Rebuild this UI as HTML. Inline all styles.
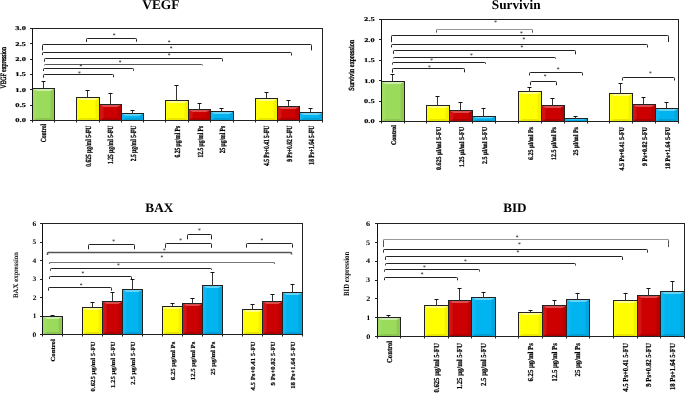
<!DOCTYPE html>
<html><head><meta charset="utf-8"><style>
html,body{margin:0;padding:0;background:#fff;overflow:hidden;}
svg{display:block;}
svg text{font-family:"Liberation Serif", serif;text-rendering:geometricPrecision;}
.tx{filter:grayscale(1) blur(0.2px);}
</style></head><body>
<svg width="685" height="393" viewBox="0 0 685 393">
<rect width="685" height="393" fill="#fff"/>
<g class="sh">
<rect x="32.5" y="88.5" width="22.0" height="32.0" fill="#9bdb5b"/>
<polygon points="32.5,88.5 36.5,91.1 36.5,118.1 32.5,120.5" fill="#a1dd65"/>
<polygon points="54.5,88.5 50.5,91.1 50.5,118.1 54.5,120.5" fill="#8fc954"/>
<polygon points="32.5,88.5 54.5,88.5 50.5,91.1 36.5,91.1" fill="#cdedad"/>
<polygon points="32.5,120.5 54.5,120.5 50.5,118.1 36.5,118.1" fill="#8cc552"/>
<rect x="32.5" y="88.5" width="22.0" height="32.0" fill="none" stroke="#222" stroke-width="1"/>
<line x1="43.5" y1="88.5" x2="43.5" y2="81.5" stroke="#333" stroke-width="1"/>
<line x1="41.5" y1="81.5" x2="45.5" y2="81.5" stroke="#111" stroke-width="1"/>
<rect x="76.5" y="97.5" width="23.0" height="23.0" fill="#ffff00"/>
<polygon points="76.5,97.5 80.5,100.1 80.5,118.1 76.5,120.5" fill="#ffff0d"/>
<polygon points="99.5,97.5 95.5,100.1 95.5,118.1 99.5,120.5" fill="#f2f200"/>
<polygon points="76.5,97.5 99.5,97.5 95.5,100.1 80.5,100.1" fill="#ffff8c"/>
<polygon points="76.5,120.5 99.5,120.5 95.5,118.1 80.5,118.1" fill="#e6e600"/>
<rect x="76.5" y="97.5" width="23.0" height="23.0" fill="none" stroke="#222" stroke-width="1"/>
<line x1="87.5" y1="97.5" x2="87.5" y2="90.5" stroke="#333" stroke-width="1"/>
<line x1="85.5" y1="90.5" x2="89.5" y2="90.5" stroke="#111" stroke-width="1"/>
<rect x="99.5" y="104.5" width="22.0" height="16.0" fill="#cc0000"/>
<polygon points="99.5,104.5 103.5,107.1 103.5,118.1 99.5,120.5" fill="#d01414"/>
<polygon points="121.5,104.5 117.5,107.1 117.5,118.1 121.5,120.5" fill="#b80000"/>
<polygon points="99.5,104.5 121.5,104.5 117.5,107.1 103.5,107.1" fill="#db4c4c"/>
<polygon points="99.5,120.5 121.5,120.5 117.5,118.1 103.5,118.1" fill="#ad0000"/>
<rect x="99.5" y="104.5" width="22.0" height="16.0" fill="none" stroke="#222" stroke-width="1"/>
<line x1="110.5" y1="104.5" x2="110.5" y2="93.5" stroke="#333" stroke-width="1"/>
<line x1="108.5" y1="93.5" x2="112.5" y2="93.5" stroke="#111" stroke-width="1"/>
<rect x="121.5" y="113.5" width="22.0" height="7.0" fill="#00b4f0"/>
<polygon points="121.5,113.5 125.5,115.83333333333333 125.5,118.16666666666667 121.5,120.5" fill="#0fb8f1"/>
<polygon points="143.5,113.5 139.5,115.83333333333333 139.5,118.16666666666667 143.5,120.5" fill="#00a6dd"/>
<polygon points="121.5,113.5 143.5,113.5 139.5,115.83333333333333 125.5,115.83333333333333" fill="#66d2f6"/>
<polygon points="121.5,120.5 143.5,120.5 139.5,118.16666666666667 125.5,118.16666666666667" fill="#009ed3"/>
<rect x="121.5" y="113.5" width="22.0" height="7.0" fill="none" stroke="#222" stroke-width="1"/>
<line x1="132.5" y1="113.5" x2="132.5" y2="110.5" stroke="#333" stroke-width="1"/>
<line x1="130.5" y1="110.5" x2="134.5" y2="110.5" stroke="#111" stroke-width="1"/>
<rect x="165.5" y="100.5" width="23.0" height="20.0" fill="#ffff00"/>
<polygon points="165.5,100.5 169.5,103.1 169.5,118.1 165.5,120.5" fill="#ffff0d"/>
<polygon points="188.5,100.5 184.5,103.1 184.5,118.1 188.5,120.5" fill="#f2f200"/>
<polygon points="165.5,100.5 188.5,100.5 184.5,103.1 169.5,103.1" fill="#ffff8c"/>
<polygon points="165.5,120.5 188.5,120.5 184.5,118.1 169.5,118.1" fill="#e6e600"/>
<rect x="165.5" y="100.5" width="23.0" height="20.0" fill="none" stroke="#222" stroke-width="1"/>
<line x1="176.5" y1="100.5" x2="176.5" y2="85.5" stroke="#333" stroke-width="1"/>
<line x1="174.5" y1="85.5" x2="178.5" y2="85.5" stroke="#111" stroke-width="1"/>
<rect x="188.5" y="109.5" width="22.0" height="11.0" fill="#cc0000"/>
<polygon points="188.5,109.5 192.5,112.1 192.5,118.1 188.5,120.5" fill="#d01414"/>
<polygon points="210.5,109.5 206.5,112.1 206.5,118.1 210.5,120.5" fill="#b80000"/>
<polygon points="188.5,109.5 210.5,109.5 206.5,112.1 192.5,112.1" fill="#db4c4c"/>
<polygon points="188.5,120.5 210.5,120.5 206.5,118.1 192.5,118.1" fill="#ad0000"/>
<rect x="188.5" y="109.5" width="22.0" height="11.0" fill="none" stroke="#222" stroke-width="1"/>
<line x1="199.5" y1="109.5" x2="199.5" y2="103.5" stroke="#333" stroke-width="1"/>
<line x1="197.5" y1="103.5" x2="201.5" y2="103.5" stroke="#111" stroke-width="1"/>
<rect x="210.5" y="111.5" width="23.0" height="9.0" fill="#00b4f0"/>
<polygon points="210.5,111.5 214.5,114.1 214.5,118.1 210.5,120.5" fill="#0fb8f1"/>
<polygon points="233.5,111.5 229.5,114.1 229.5,118.1 233.5,120.5" fill="#00a6dd"/>
<polygon points="210.5,111.5 233.5,111.5 229.5,114.1 214.5,114.1" fill="#66d2f6"/>
<polygon points="210.5,120.5 233.5,120.5 229.5,118.1 214.5,118.1" fill="#009ed3"/>
<rect x="210.5" y="111.5" width="23.0" height="9.0" fill="none" stroke="#222" stroke-width="1"/>
<line x1="221.5" y1="111.5" x2="221.5" y2="108.5" stroke="#333" stroke-width="1"/>
<line x1="219.5" y1="108.5" x2="223.5" y2="108.5" stroke="#111" stroke-width="1"/>
<rect x="255.5" y="98.5" width="22.0" height="22.0" fill="#ffff00"/>
<polygon points="255.5,98.5 259.5,101.1 259.5,118.1 255.5,120.5" fill="#ffff0d"/>
<polygon points="277.5,98.5 273.5,101.1 273.5,118.1 277.5,120.5" fill="#f2f200"/>
<polygon points="255.5,98.5 277.5,98.5 273.5,101.1 259.5,101.1" fill="#ffff8c"/>
<polygon points="255.5,120.5 277.5,120.5 273.5,118.1 259.5,118.1" fill="#e6e600"/>
<rect x="255.5" y="98.5" width="22.0" height="22.0" fill="none" stroke="#222" stroke-width="1"/>
<line x1="266.5" y1="98.5" x2="266.5" y2="92.5" stroke="#333" stroke-width="1"/>
<line x1="264.5" y1="92.5" x2="268.5" y2="92.5" stroke="#111" stroke-width="1"/>
<rect x="277.5" y="106.5" width="22.0" height="14.0" fill="#cc0000"/>
<polygon points="277.5,106.5 281.5,109.1 281.5,118.1 277.5,120.5" fill="#d01414"/>
<polygon points="299.5,106.5 295.5,109.1 295.5,118.1 299.5,120.5" fill="#b80000"/>
<polygon points="277.5,106.5 299.5,106.5 295.5,109.1 281.5,109.1" fill="#db4c4c"/>
<polygon points="277.5,120.5 299.5,120.5 295.5,118.1 281.5,118.1" fill="#ad0000"/>
<rect x="277.5" y="106.5" width="22.0" height="14.0" fill="none" stroke="#222" stroke-width="1"/>
<line x1="288.5" y1="106.5" x2="288.5" y2="100.5" stroke="#333" stroke-width="1"/>
<line x1="286.5" y1="100.5" x2="290.5" y2="100.5" stroke="#111" stroke-width="1"/>
<rect x="299.5" y="112.5" width="23.0" height="8.0" fill="#00b4f0"/>
<polygon points="299.5,112.5 303.5,115.1 303.5,118.1 299.5,120.5" fill="#0fb8f1"/>
<polygon points="322.5,112.5 318.5,115.1 318.5,118.1 322.5,120.5" fill="#00a6dd"/>
<polygon points="299.5,112.5 322.5,112.5 318.5,115.1 303.5,115.1" fill="#66d2f6"/>
<polygon points="299.5,120.5 322.5,120.5 318.5,118.1 303.5,118.1" fill="#009ed3"/>
<rect x="299.5" y="112.5" width="23.0" height="8.0" fill="none" stroke="#222" stroke-width="1"/>
<line x1="310.5" y1="112.5" x2="310.5" y2="108.5" stroke="#333" stroke-width="1"/>
<line x1="308.5" y1="108.5" x2="312.5" y2="108.5" stroke="#111" stroke-width="1"/>
<rect x="32.5" y="28.5" width="290.0" height="92.0" fill="none" stroke="#222" stroke-width="1"/>
<line x1="32.5" y1="28.5" x2="32.5" y2="120.5" stroke="#111" stroke-width="1"/>
<line x1="32.5" y1="120.5" x2="322.5" y2="120.5" stroke="#222" stroke-width="1"/>
<line x1="30.0" y1="120.5" x2="32.5" y2="120.5" stroke="#222" stroke-width="1"/>
<line x1="30.0" y1="105.5" x2="32.5" y2="105.5" stroke="#222" stroke-width="1"/>
<line x1="30.0" y1="89.5" x2="32.5" y2="89.5" stroke="#222" stroke-width="1"/>
<line x1="30.0" y1="74.5" x2="32.5" y2="74.5" stroke="#222" stroke-width="1"/>
<line x1="30.0" y1="59.5" x2="32.5" y2="59.5" stroke="#222" stroke-width="1"/>
<line x1="30.0" y1="43.5" x2="32.5" y2="43.5" stroke="#222" stroke-width="1"/>
<line x1="30.0" y1="28.5" x2="32.5" y2="28.5" stroke="#222" stroke-width="1"/>
<line x1="32.5" y1="120.5" x2="32.5" y2="122.5" stroke="#222" stroke-width="1"/>
<line x1="54.5" y1="120.5" x2="54.5" y2="122.5" stroke="#222" stroke-width="1"/>
<line x1="76.5" y1="120.5" x2="76.5" y2="122.5" stroke="#222" stroke-width="1"/>
<line x1="99.5" y1="120.5" x2="99.5" y2="122.5" stroke="#222" stroke-width="1"/>
<line x1="121.5" y1="120.5" x2="121.5" y2="122.5" stroke="#222" stroke-width="1"/>
<line x1="143.5" y1="120.5" x2="143.5" y2="122.5" stroke="#222" stroke-width="1"/>
<line x1="165.5" y1="120.5" x2="165.5" y2="122.5" stroke="#222" stroke-width="1"/>
<line x1="188.5" y1="120.5" x2="188.5" y2="122.5" stroke="#222" stroke-width="1"/>
<line x1="210.5" y1="120.5" x2="210.5" y2="122.5" stroke="#222" stroke-width="1"/>
<line x1="233.5" y1="120.5" x2="233.5" y2="122.5" stroke="#222" stroke-width="1"/>
<line x1="255.5" y1="120.5" x2="255.5" y2="122.5" stroke="#222" stroke-width="1"/>
<line x1="277.5" y1="120.5" x2="277.5" y2="122.5" stroke="#222" stroke-width="1"/>
<line x1="299.5" y1="120.5" x2="299.5" y2="122.5" stroke="#222" stroke-width="1"/>
<line x1="322.5" y1="120.5" x2="322.5" y2="122.5" stroke="#222" stroke-width="1"/>
<path d="M86.5,42.00 L86.5,39.3 Q86.5,38.5 87.3,38.5 L135.7,38.5 Q136.5,38.5 136.5,39.3 L136.5,41.70" fill="none" stroke="#222" stroke-width="1"/>
<path d="M42.5,50.40 L42.5,45.3 Q42.5,44.5 43.3,44.5 L310.7,44.5 Q311.5,44.5 311.5,45.3 L311.5,50.40" fill="none" stroke="#222" stroke-width="1"/>
<path d="M42.5,55.10 L42.5,53.3 Q42.5,52.5 43.3,52.5 L290.7,52.5 Q291.5,52.5 291.5,53.3 L291.5,55.50" fill="none" stroke="#222" stroke-width="1"/>
<path d="M44.5,61.70 L44.5,59.3 Q44.5,58.5 45.3,58.5 L221.7,58.5 Q222.5,58.5 222.5,59.3 L222.5,61.40" fill="none" stroke="#222" stroke-width="1"/>
<path d="M44.5,65.60 L44.5,65.3 Q44.5,64.5 45.3,64.5 L201.7,64.5 Q202.5,64.5 202.5,65.3 L202.5,65.50" fill="none" stroke="#555" stroke-width="1"/>
<path d="M43.5,71.00 L43.5,69.3 Q43.5,68.5 44.3,68.5 L132.7,68.5 Q133.5,68.5 133.5,69.3 L133.5,70.80" fill="none" stroke="#222" stroke-width="1"/>
<path d="M43.5,77.70 L43.5,75.3 Q43.5,74.5 44.3,74.5 L112.7,74.5 Q113.5,74.5 113.5,75.3 L113.5,77.30" fill="none" stroke="#222" stroke-width="1"/>
<rect x="381.5" y="81.5" width="23.0" height="40.0" fill="#9bdb5b"/>
<polygon points="381.5,81.5 385.5,84.1 385.5,119.1 381.5,121.5" fill="#a1dd65"/>
<polygon points="404.5,81.5 400.5,84.1 400.5,119.1 404.5,121.5" fill="#8fc954"/>
<polygon points="381.5,81.5 404.5,81.5 400.5,84.1 385.5,84.1" fill="#cdedad"/>
<polygon points="381.5,121.5 404.5,121.5 400.5,119.1 385.5,119.1" fill="#8cc552"/>
<rect x="381.5" y="81.5" width="23.0" height="40.0" fill="none" stroke="#222" stroke-width="1"/>
<line x1="392.5" y1="81.5" x2="392.5" y2="74.5" stroke="#333" stroke-width="1"/>
<line x1="390.5" y1="74.5" x2="394.5" y2="74.5" stroke="#111" stroke-width="1"/>
<rect x="426.5" y="105.5" width="23.0" height="16.0" fill="#ffff00"/>
<polygon points="426.5,105.5 430.5,108.1 430.5,119.1 426.5,121.5" fill="#ffff0d"/>
<polygon points="449.5,105.5 445.5,108.1 445.5,119.1 449.5,121.5" fill="#f2f200"/>
<polygon points="426.5,105.5 449.5,105.5 445.5,108.1 430.5,108.1" fill="#ffff8c"/>
<polygon points="426.5,121.5 449.5,121.5 445.5,119.1 430.5,119.1" fill="#e6e600"/>
<rect x="426.5" y="105.5" width="23.0" height="16.0" fill="none" stroke="#222" stroke-width="1"/>
<line x1="437.5" y1="105.5" x2="437.5" y2="96.5" stroke="#333" stroke-width="1"/>
<line x1="435.5" y1="96.5" x2="439.5" y2="96.5" stroke="#111" stroke-width="1"/>
<rect x="449.5" y="110.5" width="23.0" height="11.0" fill="#cc0000"/>
<polygon points="449.5,110.5 453.5,113.1 453.5,119.1 449.5,121.5" fill="#d01414"/>
<polygon points="472.5,110.5 468.5,113.1 468.5,119.1 472.5,121.5" fill="#b80000"/>
<polygon points="449.5,110.5 472.5,110.5 468.5,113.1 453.5,113.1" fill="#db4c4c"/>
<polygon points="449.5,121.5 472.5,121.5 468.5,119.1 453.5,119.1" fill="#ad0000"/>
<rect x="449.5" y="110.5" width="23.0" height="11.0" fill="none" stroke="#222" stroke-width="1"/>
<line x1="460.5" y1="110.5" x2="460.5" y2="102.5" stroke="#333" stroke-width="1"/>
<line x1="458.5" y1="102.5" x2="462.5" y2="102.5" stroke="#111" stroke-width="1"/>
<rect x="472.5" y="116.5" width="23.0" height="5.0" fill="#00b4f0"/>
<polygon points="472.5,116.5 476.5,118.16666666666667 476.5,119.83333333333333 472.5,121.5" fill="#0fb8f1"/>
<polygon points="495.5,116.5 491.5,118.16666666666667 491.5,119.83333333333333 495.5,121.5" fill="#00a6dd"/>
<polygon points="472.5,116.5 495.5,116.5 491.5,118.16666666666667 476.5,118.16666666666667" fill="#66d2f6"/>
<polygon points="472.5,121.5 495.5,121.5 491.5,119.83333333333333 476.5,119.83333333333333" fill="#009ed3"/>
<rect x="472.5" y="116.5" width="23.0" height="5.0" fill="none" stroke="#222" stroke-width="1"/>
<line x1="483.5" y1="116.5" x2="483.5" y2="108.5" stroke="#333" stroke-width="1"/>
<line x1="481.5" y1="108.5" x2="485.5" y2="108.5" stroke="#111" stroke-width="1"/>
<rect x="518.5" y="91.5" width="23.0" height="30.0" fill="#ffff00"/>
<polygon points="518.5,91.5 522.5,94.1 522.5,119.1 518.5,121.5" fill="#ffff0d"/>
<polygon points="541.5,91.5 537.5,94.1 537.5,119.1 541.5,121.5" fill="#f2f200"/>
<polygon points="518.5,91.5 541.5,91.5 537.5,94.1 522.5,94.1" fill="#ffff8c"/>
<polygon points="518.5,121.5 541.5,121.5 537.5,119.1 522.5,119.1" fill="#e6e600"/>
<rect x="518.5" y="91.5" width="23.0" height="30.0" fill="none" stroke="#222" stroke-width="1"/>
<line x1="529.5" y1="91.5" x2="529.5" y2="87.5" stroke="#333" stroke-width="1"/>
<line x1="527.5" y1="87.5" x2="531.5" y2="87.5" stroke="#111" stroke-width="1"/>
<rect x="541.5" y="105.5" width="23.0" height="16.0" fill="#cc0000"/>
<polygon points="541.5,105.5 545.5,108.1 545.5,119.1 541.5,121.5" fill="#d01414"/>
<polygon points="564.5,105.5 560.5,108.1 560.5,119.1 564.5,121.5" fill="#b80000"/>
<polygon points="541.5,105.5 564.5,105.5 560.5,108.1 545.5,108.1" fill="#db4c4c"/>
<polygon points="541.5,121.5 564.5,121.5 560.5,119.1 545.5,119.1" fill="#ad0000"/>
<rect x="541.5" y="105.5" width="23.0" height="16.0" fill="none" stroke="#222" stroke-width="1"/>
<line x1="552.5" y1="105.5" x2="552.5" y2="98.5" stroke="#333" stroke-width="1"/>
<line x1="550.5" y1="98.5" x2="554.5" y2="98.5" stroke="#111" stroke-width="1"/>
<rect x="564.5" y="118.5" width="23.0" height="3.0" fill="#00b4f0"/>
<polygon points="564.5,118.5 568.5,119.5 568.5,120.5 564.5,121.5" fill="#0fb8f1"/>
<polygon points="587.5,118.5 583.5,119.5 583.5,120.5 587.5,121.5" fill="#00a6dd"/>
<polygon points="564.5,118.5 587.5,118.5 583.5,119.5 568.5,119.5" fill="#66d2f6"/>
<polygon points="564.5,121.5 587.5,121.5 583.5,120.5 568.5,120.5" fill="#009ed3"/>
<rect x="564.5" y="118.5" width="23.0" height="3.0" fill="none" stroke="#222" stroke-width="1"/>
<line x1="575.5" y1="118.5" x2="575.5" y2="116.5" stroke="#333" stroke-width="1"/>
<line x1="573.5" y1="116.5" x2="577.5" y2="116.5" stroke="#111" stroke-width="1"/>
<rect x="609.5" y="93.5" width="23.0" height="28.0" fill="#ffff00"/>
<polygon points="609.5,93.5 613.5,96.1 613.5,119.1 609.5,121.5" fill="#ffff0d"/>
<polygon points="632.5,93.5 628.5,96.1 628.5,119.1 632.5,121.5" fill="#f2f200"/>
<polygon points="609.5,93.5 632.5,93.5 628.5,96.1 613.5,96.1" fill="#ffff8c"/>
<polygon points="609.5,121.5 632.5,121.5 628.5,119.1 613.5,119.1" fill="#e6e600"/>
<rect x="609.5" y="93.5" width="23.0" height="28.0" fill="none" stroke="#222" stroke-width="1"/>
<line x1="620.5" y1="93.5" x2="620.5" y2="83.5" stroke="#333" stroke-width="1"/>
<line x1="618.5" y1="83.5" x2="622.5" y2="83.5" stroke="#111" stroke-width="1"/>
<rect x="632.5" y="104.5" width="23.0" height="17.0" fill="#cc0000"/>
<polygon points="632.5,104.5 636.5,107.1 636.5,119.1 632.5,121.5" fill="#d01414"/>
<polygon points="655.5,104.5 651.5,107.1 651.5,119.1 655.5,121.5" fill="#b80000"/>
<polygon points="632.5,104.5 655.5,104.5 651.5,107.1 636.5,107.1" fill="#db4c4c"/>
<polygon points="632.5,121.5 655.5,121.5 651.5,119.1 636.5,119.1" fill="#ad0000"/>
<rect x="632.5" y="104.5" width="23.0" height="17.0" fill="none" stroke="#222" stroke-width="1"/>
<line x1="643.5" y1="104.5" x2="643.5" y2="97.5" stroke="#333" stroke-width="1"/>
<line x1="641.5" y1="97.5" x2="645.5" y2="97.5" stroke="#111" stroke-width="1"/>
<rect x="655.5" y="108.5" width="23.0" height="13.0" fill="#00b4f0"/>
<polygon points="655.5,108.5 659.5,111.1 659.5,119.1 655.5,121.5" fill="#0fb8f1"/>
<polygon points="678.5,108.5 674.5,111.1 674.5,119.1 678.5,121.5" fill="#00a6dd"/>
<polygon points="655.5,108.5 678.5,108.5 674.5,111.1 659.5,111.1" fill="#66d2f6"/>
<polygon points="655.5,121.5 678.5,121.5 674.5,119.1 659.5,119.1" fill="#009ed3"/>
<rect x="655.5" y="108.5" width="23.0" height="13.0" fill="none" stroke="#222" stroke-width="1"/>
<line x1="666.5" y1="108.5" x2="666.5" y2="102.5" stroke="#333" stroke-width="1"/>
<line x1="664.5" y1="102.5" x2="668.5" y2="102.5" stroke="#111" stroke-width="1"/>
<rect x="381.5" y="19.5" width="297.0" height="102.0" fill="none" stroke="#222" stroke-width="1"/>
<line x1="381.5" y1="19.5" x2="381.5" y2="121.5" stroke="#111" stroke-width="1"/>
<line x1="381.5" y1="121.5" x2="678.5" y2="121.5" stroke="#222" stroke-width="1"/>
<line x1="379.0" y1="121.5" x2="381.5" y2="121.5" stroke="#222" stroke-width="1"/>
<line x1="379.0" y1="101.5" x2="381.5" y2="101.5" stroke="#222" stroke-width="1"/>
<line x1="379.0" y1="80.5" x2="381.5" y2="80.5" stroke="#222" stroke-width="1"/>
<line x1="379.0" y1="60.5" x2="381.5" y2="60.5" stroke="#222" stroke-width="1"/>
<line x1="379.0" y1="39.5" x2="381.5" y2="39.5" stroke="#222" stroke-width="1"/>
<line x1="379.0" y1="19.5" x2="381.5" y2="19.5" stroke="#222" stroke-width="1"/>
<line x1="381.5" y1="121.5" x2="381.5" y2="123.5" stroke="#222" stroke-width="1"/>
<line x1="404.5" y1="121.5" x2="404.5" y2="123.5" stroke="#222" stroke-width="1"/>
<line x1="426.5" y1="121.5" x2="426.5" y2="123.5" stroke="#222" stroke-width="1"/>
<line x1="449.5" y1="121.5" x2="449.5" y2="123.5" stroke="#222" stroke-width="1"/>
<line x1="472.5" y1="121.5" x2="472.5" y2="123.5" stroke="#222" stroke-width="1"/>
<line x1="495.5" y1="121.5" x2="495.5" y2="123.5" stroke="#222" stroke-width="1"/>
<line x1="518.5" y1="121.5" x2="518.5" y2="123.5" stroke="#222" stroke-width="1"/>
<line x1="541.5" y1="121.5" x2="541.5" y2="123.5" stroke="#222" stroke-width="1"/>
<line x1="564.5" y1="121.5" x2="564.5" y2="123.5" stroke="#222" stroke-width="1"/>
<line x1="587.5" y1="121.5" x2="587.5" y2="123.5" stroke="#222" stroke-width="1"/>
<line x1="609.5" y1="121.5" x2="609.5" y2="123.5" stroke="#222" stroke-width="1"/>
<line x1="632.5" y1="121.5" x2="632.5" y2="123.5" stroke="#222" stroke-width="1"/>
<line x1="655.5" y1="121.5" x2="655.5" y2="123.5" stroke="#222" stroke-width="1"/>
<line x1="678.5" y1="121.5" x2="678.5" y2="123.5" stroke="#222" stroke-width="1"/>
<path d="M437.3,29.5 L531.7,29.5" fill="none" stroke="#999" stroke-width="1"/>
<path d="M436.5,32.60 L436.5,30.3 Q436.5,29.5 437.3,29.5 M531.7,29.5 Q532.5,29.5 532.5,30.3 L532.5,32.70" fill="none" stroke="#555" stroke-width="1"/>
<path d="M391.5,42.20 L391.5,36.3 Q391.5,35.5 392.3,35.5 L667.7,35.5 Q668.5,35.5 668.5,36.3 L668.5,42.00" fill="none" stroke="#222" stroke-width="1"/>
<path d="M391.5,47.40 L391.5,45.3 Q391.5,44.5 392.3,44.5 L646.7,44.5 Q647.5,44.5 647.5,45.3 L647.5,47.50" fill="none" stroke="#222" stroke-width="1"/>
<path d="M393.5,53.90 L393.5,51.3 Q393.5,50.5 394.3,50.5 L574.7,50.5 Q575.5,50.5 575.5,51.3 L575.5,54.30" fill="none" stroke="#222" stroke-width="1"/>
<path d="M393.5,58.50 L393.5,58.3 Q393.5,57.5 394.3,57.5 L554.7,57.5 Q555.5,57.5 555.5,58.3 L555.5,58.70" fill="none" stroke="#222" stroke-width="1"/>
<path d="M392.5,64.60 L392.5,63.3 Q392.5,62.5 393.3,62.5 L484.7,62.5 Q485.5,62.5 485.5,63.3 L485.5,64.00" fill="none" stroke="#222" stroke-width="1"/>
<path d="M392.5,72.70 L392.5,69.3 Q392.5,68.5 393.3,68.5 L463.7,68.5 Q464.5,68.5 464.5,69.3 L464.5,72.30" fill="none" stroke="#222" stroke-width="1"/>
<path d="M529.5,75.40 L529.5,73.3 Q529.5,72.5 530.3,72.5 L581.7,72.5 Q582.5,72.5 582.5,73.3 L582.5,75.40" fill="none" stroke="#222" stroke-width="1"/>
<path d="M530.5,85.20 L530.5,82.3 Q530.5,81.5 531.3,81.5 L555.7,81.5 Q556.5,81.5 556.5,82.3 L556.5,85.20" fill="none" stroke="#222" stroke-width="1"/>
<path d="M622.5,80.50 L622.5,78.3 Q622.5,77.5 623.3,77.5 L673.7,77.5 Q674.5,77.5 674.5,78.3 L674.5,80.50" fill="none" stroke="#222" stroke-width="1"/>
<rect x="42.5" y="316.5" width="20.0" height="18.0" fill="#9bdb5b"/>
<polygon points="42.5,316.5 46.5,319.1 46.5,332.1 42.5,334.5" fill="#a1dd65"/>
<polygon points="62.5,316.5 58.5,319.1 58.5,332.1 62.5,334.5" fill="#8fc954"/>
<polygon points="42.5,316.5 62.5,316.5 58.5,319.1 46.5,319.1" fill="#cdedad"/>
<polygon points="42.5,334.5 62.5,334.5 58.5,332.1 46.5,332.1" fill="#8cc552"/>
<rect x="42.5" y="316.5" width="20.0" height="18.0" fill="none" stroke="#222" stroke-width="1"/>
<line x1="52.5" y1="316.5" x2="52.5" y2="315.5" stroke="#333" stroke-width="1"/>
<line x1="50.5" y1="315.5" x2="54.5" y2="315.5" stroke="#111" stroke-width="1"/>
<rect x="82.5" y="307.5" width="20.0" height="27.0" fill="#ffff00"/>
<polygon points="82.5,307.5 86.5,310.1 86.5,332.1 82.5,334.5" fill="#ffff0d"/>
<polygon points="102.5,307.5 98.5,310.1 98.5,332.1 102.5,334.5" fill="#f2f200"/>
<polygon points="82.5,307.5 102.5,307.5 98.5,310.1 86.5,310.1" fill="#ffff8c"/>
<polygon points="82.5,334.5 102.5,334.5 98.5,332.1 86.5,332.1" fill="#e6e600"/>
<rect x="82.5" y="307.5" width="20.0" height="27.0" fill="none" stroke="#222" stroke-width="1"/>
<line x1="92.5" y1="307.5" x2="92.5" y2="302.5" stroke="#333" stroke-width="1"/>
<line x1="90.5" y1="302.5" x2="94.5" y2="302.5" stroke="#111" stroke-width="1"/>
<rect x="102.5" y="301.5" width="20.0" height="33.0" fill="#cc0000"/>
<polygon points="102.5,301.5 106.5,304.1 106.5,332.1 102.5,334.5" fill="#d01414"/>
<polygon points="122.5,301.5 118.5,304.1 118.5,332.1 122.5,334.5" fill="#b80000"/>
<polygon points="102.5,301.5 122.5,301.5 118.5,304.1 106.5,304.1" fill="#db4c4c"/>
<polygon points="102.5,334.5 122.5,334.5 118.5,332.1 106.5,332.1" fill="#ad0000"/>
<rect x="102.5" y="301.5" width="20.0" height="33.0" fill="none" stroke="#222" stroke-width="1"/>
<line x1="112.5" y1="301.5" x2="112.5" y2="292.5" stroke="#333" stroke-width="1"/>
<line x1="110.5" y1="292.5" x2="114.5" y2="292.5" stroke="#111" stroke-width="1"/>
<rect x="122.5" y="289.5" width="20.0" height="45.0" fill="#00b4f0"/>
<polygon points="122.5,289.5 126.5,292.1 126.5,332.1 122.5,334.5" fill="#0fb8f1"/>
<polygon points="142.5,289.5 138.5,292.1 138.5,332.1 142.5,334.5" fill="#00a6dd"/>
<polygon points="122.5,289.5 142.5,289.5 138.5,292.1 126.5,292.1" fill="#66d2f6"/>
<polygon points="122.5,334.5 142.5,334.5 138.5,332.1 126.5,332.1" fill="#009ed3"/>
<rect x="122.5" y="289.5" width="20.0" height="45.0" fill="none" stroke="#222" stroke-width="1"/>
<line x1="132.5" y1="289.5" x2="132.5" y2="279.5" stroke="#333" stroke-width="1"/>
<line x1="130.5" y1="279.5" x2="134.5" y2="279.5" stroke="#111" stroke-width="1"/>
<rect x="162.5" y="306.5" width="20.0" height="28.0" fill="#ffff00"/>
<polygon points="162.5,306.5 166.5,309.1 166.5,332.1 162.5,334.5" fill="#ffff0d"/>
<polygon points="182.5,306.5 178.5,309.1 178.5,332.1 182.5,334.5" fill="#f2f200"/>
<polygon points="162.5,306.5 182.5,306.5 178.5,309.1 166.5,309.1" fill="#ffff8c"/>
<polygon points="162.5,334.5 182.5,334.5 178.5,332.1 166.5,332.1" fill="#e6e600"/>
<rect x="162.5" y="306.5" width="20.0" height="28.0" fill="none" stroke="#222" stroke-width="1"/>
<line x1="172.5" y1="306.5" x2="172.5" y2="303.5" stroke="#333" stroke-width="1"/>
<line x1="170.5" y1="303.5" x2="174.5" y2="303.5" stroke="#111" stroke-width="1"/>
<rect x="182.5" y="303.5" width="20.0" height="31.0" fill="#cc0000"/>
<polygon points="182.5,303.5 186.5,306.1 186.5,332.1 182.5,334.5" fill="#d01414"/>
<polygon points="202.5,303.5 198.5,306.1 198.5,332.1 202.5,334.5" fill="#b80000"/>
<polygon points="182.5,303.5 202.5,303.5 198.5,306.1 186.5,306.1" fill="#db4c4c"/>
<polygon points="182.5,334.5 202.5,334.5 198.5,332.1 186.5,332.1" fill="#ad0000"/>
<rect x="182.5" y="303.5" width="20.0" height="31.0" fill="none" stroke="#222" stroke-width="1"/>
<line x1="192.5" y1="303.5" x2="192.5" y2="298.5" stroke="#333" stroke-width="1"/>
<line x1="190.5" y1="298.5" x2="194.5" y2="298.5" stroke="#111" stroke-width="1"/>
<rect x="202.5" y="285.5" width="20.0" height="49.0" fill="#00b4f0"/>
<polygon points="202.5,285.5 206.5,288.1 206.5,332.1 202.5,334.5" fill="#0fb8f1"/>
<polygon points="222.5,285.5 218.5,288.1 218.5,332.1 222.5,334.5" fill="#00a6dd"/>
<polygon points="202.5,285.5 222.5,285.5 218.5,288.1 206.5,288.1" fill="#66d2f6"/>
<polygon points="202.5,334.5 222.5,334.5 218.5,332.1 206.5,332.1" fill="#009ed3"/>
<rect x="202.5" y="285.5" width="20.0" height="49.0" fill="none" stroke="#222" stroke-width="1"/>
<line x1="212.5" y1="285.5" x2="212.5" y2="272.5" stroke="#333" stroke-width="1"/>
<line x1="210.5" y1="272.5" x2="214.5" y2="272.5" stroke="#111" stroke-width="1"/>
<rect x="242.5" y="309.5" width="20.0" height="25.0" fill="#ffff00"/>
<polygon points="242.5,309.5 246.5,312.1 246.5,332.1 242.5,334.5" fill="#ffff0d"/>
<polygon points="262.5,309.5 258.5,312.1 258.5,332.1 262.5,334.5" fill="#f2f200"/>
<polygon points="242.5,309.5 262.5,309.5 258.5,312.1 246.5,312.1" fill="#ffff8c"/>
<polygon points="242.5,334.5 262.5,334.5 258.5,332.1 246.5,332.1" fill="#e6e600"/>
<rect x="242.5" y="309.5" width="20.0" height="25.0" fill="none" stroke="#222" stroke-width="1"/>
<line x1="252.5" y1="309.5" x2="252.5" y2="304.5" stroke="#333" stroke-width="1"/>
<line x1="250.5" y1="304.5" x2="254.5" y2="304.5" stroke="#111" stroke-width="1"/>
<rect x="262.5" y="301.5" width="20.0" height="33.0" fill="#cc0000"/>
<polygon points="262.5,301.5 266.5,304.1 266.5,332.1 262.5,334.5" fill="#d01414"/>
<polygon points="282.5,301.5 278.5,304.1 278.5,332.1 282.5,334.5" fill="#b80000"/>
<polygon points="262.5,301.5 282.5,301.5 278.5,304.1 266.5,304.1" fill="#db4c4c"/>
<polygon points="262.5,334.5 282.5,334.5 278.5,332.1 266.5,332.1" fill="#ad0000"/>
<rect x="262.5" y="301.5" width="20.0" height="33.0" fill="none" stroke="#222" stroke-width="1"/>
<line x1="272.5" y1="301.5" x2="272.5" y2="294.5" stroke="#333" stroke-width="1"/>
<line x1="270.5" y1="294.5" x2="274.5" y2="294.5" stroke="#111" stroke-width="1"/>
<rect x="282.5" y="292.5" width="20.0" height="42.0" fill="#00b4f0"/>
<polygon points="282.5,292.5 286.5,295.1 286.5,332.1 282.5,334.5" fill="#0fb8f1"/>
<polygon points="302.5,292.5 298.5,295.1 298.5,332.1 302.5,334.5" fill="#00a6dd"/>
<polygon points="282.5,292.5 302.5,292.5 298.5,295.1 286.5,295.1" fill="#66d2f6"/>
<polygon points="282.5,334.5 302.5,334.5 298.5,332.1 286.5,332.1" fill="#009ed3"/>
<rect x="282.5" y="292.5" width="20.0" height="42.0" fill="none" stroke="#222" stroke-width="1"/>
<line x1="292.5" y1="292.5" x2="292.5" y2="284.5" stroke="#333" stroke-width="1"/>
<line x1="290.5" y1="284.5" x2="294.5" y2="284.5" stroke="#111" stroke-width="1"/>
<rect x="42.5" y="223.5" width="260.0" height="111.0" fill="none" stroke="#222" stroke-width="1"/>
<line x1="42.5" y1="223.5" x2="42.5" y2="334.5" stroke="#111" stroke-width="1"/>
<line x1="42.5" y1="334.5" x2="302.5" y2="334.5" stroke="#222" stroke-width="1"/>
<line x1="40.0" y1="334.5" x2="42.5" y2="334.5" stroke="#222" stroke-width="1"/>
<line x1="40.0" y1="316.5" x2="42.5" y2="316.5" stroke="#222" stroke-width="1"/>
<line x1="40.0" y1="297.5" x2="42.5" y2="297.5" stroke="#222" stroke-width="1"/>
<line x1="40.0" y1="279.5" x2="42.5" y2="279.5" stroke="#222" stroke-width="1"/>
<line x1="40.0" y1="260.5" x2="42.5" y2="260.5" stroke="#222" stroke-width="1"/>
<line x1="40.0" y1="242.5" x2="42.5" y2="242.5" stroke="#222" stroke-width="1"/>
<line x1="40.0" y1="223.5" x2="42.5" y2="223.5" stroke="#222" stroke-width="1"/>
<line x1="42.5" y1="334.5" x2="42.5" y2="336.5" stroke="#222" stroke-width="1"/>
<line x1="62.5" y1="334.5" x2="62.5" y2="336.5" stroke="#222" stroke-width="1"/>
<line x1="82.5" y1="334.5" x2="82.5" y2="336.5" stroke="#222" stroke-width="1"/>
<line x1="102.5" y1="334.5" x2="102.5" y2="336.5" stroke="#222" stroke-width="1"/>
<line x1="122.5" y1="334.5" x2="122.5" y2="336.5" stroke="#222" stroke-width="1"/>
<line x1="142.5" y1="334.5" x2="142.5" y2="336.5" stroke="#222" stroke-width="1"/>
<line x1="162.5" y1="334.5" x2="162.5" y2="336.5" stroke="#222" stroke-width="1"/>
<line x1="182.5" y1="334.5" x2="182.5" y2="336.5" stroke="#222" stroke-width="1"/>
<line x1="202.5" y1="334.5" x2="202.5" y2="336.5" stroke="#222" stroke-width="1"/>
<line x1="222.5" y1="334.5" x2="222.5" y2="336.5" stroke="#222" stroke-width="1"/>
<line x1="242.5" y1="334.5" x2="242.5" y2="336.5" stroke="#222" stroke-width="1"/>
<line x1="262.5" y1="334.5" x2="262.5" y2="336.5" stroke="#222" stroke-width="1"/>
<line x1="282.5" y1="334.5" x2="282.5" y2="336.5" stroke="#222" stroke-width="1"/>
<line x1="302.5" y1="334.5" x2="302.5" y2="336.5" stroke="#222" stroke-width="1"/>
<path d="M88.5,249.30 L88.5,245.3 Q88.5,244.5 89.3,244.5 L133.7,244.5 Q134.5,244.5 134.5,245.3 L134.5,249.30" fill="none" stroke="#222" stroke-width="1"/>
<path d="M47.5,255.00 L47.5,253.3 Q47.5,252.5 48.3,252.5 L290.7,252.5 Q291.5,252.5 291.5,253.3 L291.5,254.40" fill="none" stroke="#555" stroke-width="1.5"/>
<path d="M49.5,263.90 L49.5,263.3 Q49.5,262.5 50.3,262.5 L273.7,262.5 Q274.5,262.5 274.5,263.3 L274.5,263.90" fill="none" stroke="#777" stroke-width="1.2"/>
<path d="M50.5,270.60 L50.5,269.3 Q50.5,268.5 51.3,268.5 L210.7,268.5 Q211.5,268.5 211.5,269.3 L211.5,269.90" fill="none" stroke="#222" stroke-width="1"/>
<path d="M49.5,279.00 L49.5,277.3 Q49.5,276.5 50.3,276.5 L130.7,276.5 Q131.5,276.5 131.5,277.3 L131.5,279.00" fill="none" stroke="#222" stroke-width="1"/>
<path d="M48.5,290.60 L48.5,288.3 Q48.5,287.5 49.3,287.5 L110.7,287.5 Q111.5,287.5 111.5,288.3 L111.5,290.60" fill="none" stroke="#222" stroke-width="1"/>
<path d="M187.5,239.30 L187.5,235.3 Q187.5,234.5 188.3,234.5 L210.7,234.5 Q211.5,234.5 211.5,235.3 L211.5,239.30" fill="none" stroke="#222" stroke-width="1"/>
<path d="M165.5,247.80 L165.5,244.3 Q165.5,243.5 166.3,243.5 L210.7,243.5 Q211.5,243.5 211.5,244.3 L211.5,247.80" fill="none" stroke="#222" stroke-width="1"/>
<path d="M246.5,247.60 L246.5,244.3 Q246.5,243.5 247.3,243.5 L291.7,243.5 Q292.5,243.5 292.5,244.3 L292.5,247.60" fill="none" stroke="#222" stroke-width="1"/>
<rect x="377.5" y="317.5" width="23.0" height="19.0" fill="#9bdb5b"/>
<polygon points="377.5,317.5 381.5,320.1 381.5,334.1 377.5,336.5" fill="#a1dd65"/>
<polygon points="400.5,317.5 396.5,320.1 396.5,334.1 400.5,336.5" fill="#8fc954"/>
<polygon points="377.5,317.5 400.5,317.5 396.5,320.1 381.5,320.1" fill="#cdedad"/>
<polygon points="377.5,336.5 400.5,336.5 396.5,334.1 381.5,334.1" fill="#8cc552"/>
<rect x="377.5" y="317.5" width="23.0" height="19.0" fill="none" stroke="#222" stroke-width="1"/>
<line x1="388.5" y1="317.5" x2="388.5" y2="315.5" stroke="#333" stroke-width="1"/>
<line x1="386.5" y1="315.5" x2="390.5" y2="315.5" stroke="#111" stroke-width="1"/>
<rect x="424.5" y="305.5" width="24.0" height="31.0" fill="#ffff00"/>
<polygon points="424.5,305.5 428.5,308.1 428.5,334.1 424.5,336.5" fill="#ffff0d"/>
<polygon points="448.5,305.5 444.5,308.1 444.5,334.1 448.5,336.5" fill="#f2f200"/>
<polygon points="424.5,305.5 448.5,305.5 444.5,308.1 428.5,308.1" fill="#ffff8c"/>
<polygon points="424.5,336.5 448.5,336.5 444.5,334.1 428.5,334.1" fill="#e6e600"/>
<rect x="424.5" y="305.5" width="24.0" height="31.0" fill="none" stroke="#222" stroke-width="1"/>
<line x1="436.5" y1="305.5" x2="436.5" y2="299.5" stroke="#333" stroke-width="1"/>
<line x1="434.5" y1="299.5" x2="438.5" y2="299.5" stroke="#111" stroke-width="1"/>
<rect x="448.5" y="300.5" width="23.0" height="36.0" fill="#cc0000"/>
<polygon points="448.5,300.5 452.5,303.1 452.5,334.1 448.5,336.5" fill="#d01414"/>
<polygon points="471.5,300.5 467.5,303.1 467.5,334.1 471.5,336.5" fill="#b80000"/>
<polygon points="448.5,300.5 471.5,300.5 467.5,303.1 452.5,303.1" fill="#db4c4c"/>
<polygon points="448.5,336.5 471.5,336.5 467.5,334.1 452.5,334.1" fill="#ad0000"/>
<rect x="448.5" y="300.5" width="23.0" height="36.0" fill="none" stroke="#222" stroke-width="1"/>
<line x1="459.5" y1="300.5" x2="459.5" y2="288.5" stroke="#333" stroke-width="1"/>
<line x1="457.5" y1="288.5" x2="461.5" y2="288.5" stroke="#111" stroke-width="1"/>
<rect x="471.5" y="297.5" width="24.0" height="39.0" fill="#00b4f0"/>
<polygon points="471.5,297.5 475.5,300.1 475.5,334.1 471.5,336.5" fill="#0fb8f1"/>
<polygon points="495.5,297.5 491.5,300.1 491.5,334.1 495.5,336.5" fill="#00a6dd"/>
<polygon points="471.5,297.5 495.5,297.5 491.5,300.1 475.5,300.1" fill="#66d2f6"/>
<polygon points="471.5,336.5 495.5,336.5 491.5,334.1 475.5,334.1" fill="#009ed3"/>
<rect x="471.5" y="297.5" width="24.0" height="39.0" fill="none" stroke="#222" stroke-width="1"/>
<line x1="483.5" y1="297.5" x2="483.5" y2="292.5" stroke="#333" stroke-width="1"/>
<line x1="481.5" y1="292.5" x2="485.5" y2="292.5" stroke="#111" stroke-width="1"/>
<rect x="518.5" y="312.5" width="24.0" height="24.0" fill="#ffff00"/>
<polygon points="518.5,312.5 522.5,315.1 522.5,334.1 518.5,336.5" fill="#ffff0d"/>
<polygon points="542.5,312.5 538.5,315.1 538.5,334.1 542.5,336.5" fill="#f2f200"/>
<polygon points="518.5,312.5 542.5,312.5 538.5,315.1 522.5,315.1" fill="#ffff8c"/>
<polygon points="518.5,336.5 542.5,336.5 538.5,334.1 522.5,334.1" fill="#e6e600"/>
<rect x="518.5" y="312.5" width="24.0" height="24.0" fill="none" stroke="#222" stroke-width="1"/>
<line x1="530.5" y1="312.5" x2="530.5" y2="310.5" stroke="#333" stroke-width="1"/>
<line x1="528.5" y1="310.5" x2="532.5" y2="310.5" stroke="#111" stroke-width="1"/>
<rect x="542.5" y="305.5" width="24.0" height="31.0" fill="#cc0000"/>
<polygon points="542.5,305.5 546.5,308.1 546.5,334.1 542.5,336.5" fill="#d01414"/>
<polygon points="566.5,305.5 562.5,308.1 562.5,334.1 566.5,336.5" fill="#b80000"/>
<polygon points="542.5,305.5 566.5,305.5 562.5,308.1 546.5,308.1" fill="#db4c4c"/>
<polygon points="542.5,336.5 566.5,336.5 562.5,334.1 546.5,334.1" fill="#ad0000"/>
<rect x="542.5" y="305.5" width="24.0" height="31.0" fill="none" stroke="#222" stroke-width="1"/>
<line x1="554.5" y1="305.5" x2="554.5" y2="300.5" stroke="#333" stroke-width="1"/>
<line x1="552.5" y1="300.5" x2="556.5" y2="300.5" stroke="#111" stroke-width="1"/>
<rect x="566.5" y="299.5" width="23.0" height="37.0" fill="#00b4f0"/>
<polygon points="566.5,299.5 570.5,302.1 570.5,334.1 566.5,336.5" fill="#0fb8f1"/>
<polygon points="589.5,299.5 585.5,302.1 585.5,334.1 589.5,336.5" fill="#00a6dd"/>
<polygon points="566.5,299.5 589.5,299.5 585.5,302.1 570.5,302.1" fill="#66d2f6"/>
<polygon points="566.5,336.5 589.5,336.5 585.5,334.1 570.5,334.1" fill="#009ed3"/>
<rect x="566.5" y="299.5" width="23.0" height="37.0" fill="none" stroke="#222" stroke-width="1"/>
<line x1="577.5" y1="299.5" x2="577.5" y2="293.5" stroke="#333" stroke-width="1"/>
<line x1="575.5" y1="293.5" x2="579.5" y2="293.5" stroke="#111" stroke-width="1"/>
<rect x="613.5" y="300.5" width="24.0" height="36.0" fill="#ffff00"/>
<polygon points="613.5,300.5 617.5,303.1 617.5,334.1 613.5,336.5" fill="#ffff0d"/>
<polygon points="637.5,300.5 633.5,303.1 633.5,334.1 637.5,336.5" fill="#f2f200"/>
<polygon points="613.5,300.5 637.5,300.5 633.5,303.1 617.5,303.1" fill="#ffff8c"/>
<polygon points="613.5,336.5 637.5,336.5 633.5,334.1 617.5,334.1" fill="#e6e600"/>
<rect x="613.5" y="300.5" width="24.0" height="36.0" fill="none" stroke="#222" stroke-width="1"/>
<line x1="625.5" y1="300.5" x2="625.5" y2="293.5" stroke="#333" stroke-width="1"/>
<line x1="623.5" y1="293.5" x2="627.5" y2="293.5" stroke="#111" stroke-width="1"/>
<rect x="637.5" y="295.5" width="23.0" height="41.0" fill="#cc0000"/>
<polygon points="637.5,295.5 641.5,298.1 641.5,334.1 637.5,336.5" fill="#d01414"/>
<polygon points="660.5,295.5 656.5,298.1 656.5,334.1 660.5,336.5" fill="#b80000"/>
<polygon points="637.5,295.5 660.5,295.5 656.5,298.1 641.5,298.1" fill="#db4c4c"/>
<polygon points="637.5,336.5 660.5,336.5 656.5,334.1 641.5,334.1" fill="#ad0000"/>
<rect x="637.5" y="295.5" width="23.0" height="41.0" fill="none" stroke="#222" stroke-width="1"/>
<line x1="648.5" y1="295.5" x2="648.5" y2="288.5" stroke="#333" stroke-width="1"/>
<line x1="646.5" y1="288.5" x2="650.5" y2="288.5" stroke="#111" stroke-width="1"/>
<rect x="660.5" y="291.5" width="24.0" height="45.0" fill="#00b4f0"/>
<polygon points="660.5,291.5 664.5,294.1 664.5,334.1 660.5,336.5" fill="#0fb8f1"/>
<polygon points="684.5,291.5 680.5,294.1 680.5,334.1 684.5,336.5" fill="#00a6dd"/>
<polygon points="660.5,291.5 684.5,291.5 680.5,294.1 664.5,294.1" fill="#66d2f6"/>
<polygon points="660.5,336.5 684.5,336.5 680.5,334.1 664.5,334.1" fill="#009ed3"/>
<rect x="660.5" y="291.5" width="24.0" height="45.0" fill="none" stroke="#222" stroke-width="1"/>
<line x1="672.5" y1="291.5" x2="672.5" y2="281.5" stroke="#333" stroke-width="1"/>
<line x1="670.5" y1="281.5" x2="674.5" y2="281.5" stroke="#111" stroke-width="1"/>
<rect x="377.5" y="223.5" width="307.0" height="113.0" fill="none" stroke="#222" stroke-width="1"/>
<line x1="377.5" y1="223.5" x2="377.5" y2="336.5" stroke="#111" stroke-width="1"/>
<line x1="377.5" y1="336.5" x2="684.5" y2="336.5" stroke="#222" stroke-width="1"/>
<line x1="375.0" y1="336.5" x2="377.5" y2="336.5" stroke="#222" stroke-width="1"/>
<line x1="375.0" y1="317.5" x2="377.5" y2="317.5" stroke="#222" stroke-width="1"/>
<line x1="375.0" y1="298.5" x2="377.5" y2="298.5" stroke="#222" stroke-width="1"/>
<line x1="375.0" y1="280.5" x2="377.5" y2="280.5" stroke="#222" stroke-width="1"/>
<line x1="375.0" y1="261.5" x2="377.5" y2="261.5" stroke="#222" stroke-width="1"/>
<line x1="375.0" y1="242.5" x2="377.5" y2="242.5" stroke="#222" stroke-width="1"/>
<line x1="375.0" y1="223.5" x2="377.5" y2="223.5" stroke="#222" stroke-width="1"/>
<line x1="377.5" y1="336.5" x2="377.5" y2="338.5" stroke="#222" stroke-width="1"/>
<line x1="400.5" y1="336.5" x2="400.5" y2="338.5" stroke="#222" stroke-width="1"/>
<line x1="424.5" y1="336.5" x2="424.5" y2="338.5" stroke="#222" stroke-width="1"/>
<line x1="448.5" y1="336.5" x2="448.5" y2="338.5" stroke="#222" stroke-width="1"/>
<line x1="471.5" y1="336.5" x2="471.5" y2="338.5" stroke="#222" stroke-width="1"/>
<line x1="495.5" y1="336.5" x2="495.5" y2="338.5" stroke="#222" stroke-width="1"/>
<line x1="518.5" y1="336.5" x2="518.5" y2="338.5" stroke="#222" stroke-width="1"/>
<line x1="542.5" y1="336.5" x2="542.5" y2="338.5" stroke="#222" stroke-width="1"/>
<line x1="566.5" y1="336.5" x2="566.5" y2="338.5" stroke="#222" stroke-width="1"/>
<line x1="589.5" y1="336.5" x2="589.5" y2="338.5" stroke="#222" stroke-width="1"/>
<line x1="613.5" y1="336.5" x2="613.5" y2="338.5" stroke="#222" stroke-width="1"/>
<line x1="637.5" y1="336.5" x2="637.5" y2="338.5" stroke="#222" stroke-width="1"/>
<line x1="660.5" y1="336.5" x2="660.5" y2="338.5" stroke="#222" stroke-width="1"/>
<line x1="684.5" y1="336.5" x2="684.5" y2="338.5" stroke="#222" stroke-width="1"/>
<path d="M384.3,239.5 L667.7,239.5" fill="none" stroke="#999" stroke-width="1"/>
<path d="M383.5,247.10 L383.5,240.3 Q383.5,239.5 384.3,239.5 M667.7,239.5 Q668.5,239.5 668.5,240.3 L668.5,247.20" fill="none" stroke="#555" stroke-width="1"/>
<path d="M383.5,252.60 L383.5,250.3 Q383.5,249.5 384.3,249.5 L646.7,249.5 Q647.5,249.5 647.5,250.3 L647.5,252.60" fill="none" stroke="#222" stroke-width="1"/>
<path d="M385.5,259.90 L385.5,257.3 Q385.5,256.5 386.3,256.5 L621.7,256.5 Q622.5,256.5 622.5,257.3 L622.5,260.00" fill="none" stroke="#222" stroke-width="1"/>
<path d="M385.5,265.40 L385.5,264.3 Q385.5,263.5 386.3,263.5 L574.7,263.5 Q575.5,263.5 575.5,264.3 L575.5,265.50" fill="none" stroke="#222" stroke-width="1"/>
<path d="M384.5,271.70 L384.5,270.3 Q384.5,269.5 385.3,269.5 L478.7,269.5 Q479.5,269.5 479.5,270.3 L479.5,271.60" fill="none" stroke="#222" stroke-width="1"/>
<path d="M384.5,280.20 L384.5,278.3 Q384.5,277.5 385.3,277.5 L456.7,277.5 Q457.5,277.5 457.5,278.3 L457.5,280.30" fill="none" stroke="#222" stroke-width="1"/>
</g>
<g class="tx">
<text transform="matrix(0.17200,0,0,0.11600,15.194,122.385)" font-size="50" font-weight="bold" fill="#000" stroke="#000" stroke-width="1.5">0.0</text>
<text transform="matrix(0.17200,0,0,0.11600,15.151,107.052)" font-size="50" font-weight="bold" fill="#000" stroke="#000" stroke-width="1.5">0.5</text>
<text transform="matrix(0.17200,0,0,0.11600,15.194,91.718)" font-size="50" font-weight="bold" fill="#000" stroke="#000" stroke-width="1.5">1.0</text>
<text transform="matrix(0.17200,0,0,0.11600,15.151,76.371)" font-size="50" font-weight="bold" fill="#000" stroke="#000" stroke-width="1.5">1.5</text>
<text transform="matrix(0.17200,0,0,0.11600,15.194,61.052)" font-size="50" font-weight="bold" fill="#000" stroke="#000" stroke-width="1.5">2.0</text>
<text transform="matrix(0.17200,0,0,0.11600,15.151,45.704)" font-size="50" font-weight="bold" fill="#000" stroke="#000" stroke-width="1.5">2.5</text>
<text transform="matrix(0.17200,0,0,0.11600,15.194,30.385)" font-size="50" font-weight="bold" fill="#000" stroke="#000" stroke-width="1.5">3.0</text>
<text x="114.00" y="36.90" font-size="5.5" font-weight="bold" text-anchor="middle" fill="#222">*</text>
<text x="169.10" y="43.70" font-size="5.5" font-weight="bold" text-anchor="middle" fill="#222">*</text>
<text x="171.20" y="49.50" font-size="5.5" font-weight="bold" text-anchor="middle" fill="#222">*</text>
<text x="169.10" y="57.10" font-size="5.5" font-weight="bold" text-anchor="middle" fill="#222">*</text>
<text x="120.00" y="63.90" font-size="5.5" font-weight="bold" text-anchor="middle" fill="#222">*</text>
<text x="80.80" y="68.20" font-size="5.5" font-weight="bold" text-anchor="middle" fill="#222">*</text>
<text x="79.30" y="74.90" font-size="5.5" font-weight="bold" text-anchor="middle" fill="#222">*</text>
<text transform="matrix(0,-0.11100,0.15600,0,46.402,142.287)" font-size="50" font-weight="bold" fill="#000" stroke="#000" stroke-width="1.7500000000000002">Control</text>
<text transform="matrix(0,-0.11100,0.15600,0,91.002,166.765)" font-size="50" font-weight="bold" fill="#000" stroke="#000" stroke-width="1.7500000000000002">0.625 μg/ml 5-FU</text>
<text transform="matrix(0,-0.11100,0.15600,0,113.302,163.990)" font-size="50" font-weight="bold" fill="#000" stroke="#000" stroke-width="1.7500000000000002">1.25 μg/ml 5-FU</text>
<text transform="matrix(0,-0.11100,0.15600,0,135.602,161.215)" font-size="50" font-weight="bold" fill="#000" stroke="#000" stroke-width="1.7500000000000002">2.5 μg/ml 5-FU</text>
<text transform="matrix(0,-0.11100,0.15600,0,180.202,157.524)" font-size="50" font-weight="bold" fill="#000" stroke="#000" stroke-width="1.7500000000000002">6.25 μg/ml Ps</text>
<text transform="matrix(0,-0.11100,0.15600,0,202.502,157.524)" font-size="50" font-weight="bold" fill="#000" stroke="#000" stroke-width="1.7500000000000002">12.5 μg/ml Ps</text>
<text transform="matrix(0,-0.11100,0.15600,0,224.802,153.362)" font-size="50" font-weight="bold" fill="#000" stroke="#000" stroke-width="1.7500000000000002">25 μg/ml Ps</text>
<text transform="matrix(0,-0.11100,0.15600,0,269.402,166.016)" font-size="50" font-weight="bold" fill="#000" stroke="#000" stroke-width="1.7500000000000002">4.5 Ps+0.41 5-FU</text>
<text transform="matrix(0,-0.11100,0.15600,0,291.702,161.853)" font-size="50" font-weight="bold" fill="#000" stroke="#000" stroke-width="1.7500000000000002">9 Ps+0.82 5-FU</text>
<text transform="matrix(0,-0.11100,0.15600,0,314.002,164.628)" font-size="50" font-weight="bold" fill="#000" stroke="#000" stroke-width="1.7500000000000002">18 Ps+1.64 5-FU</text>
<text transform="matrix(0,-0.11600,0.16000,0,6.400,88.492)" font-size="50" font-weight="normal" fill="#000" stroke="#000" stroke-width="2.5">VEGF expression</text>
<text transform="matrix(0.26800,0,0,0.26800,142.242,8.900)" font-size="50" font-weight="bold" fill="#000">VEGF</text>
<text transform="matrix(0.16800,0,0,0.11600,364.136,123.385)" font-size="50" font-weight="bold" fill="#000" stroke="#000" stroke-width="1.5">0.0</text>
<text transform="matrix(0.16800,0,0,0.11600,364.094,102.985)" font-size="50" font-weight="bold" fill="#000" stroke="#000" stroke-width="1.5">0.5</text>
<text transform="matrix(0.16800,0,0,0.11600,364.136,82.585)" font-size="50" font-weight="bold" fill="#000" stroke="#000" stroke-width="1.5">1.0</text>
<text transform="matrix(0.16800,0,0,0.11600,364.094,62.170)" font-size="50" font-weight="bold" fill="#000" stroke="#000" stroke-width="1.5">1.5</text>
<text transform="matrix(0.16800,0,0,0.11600,364.136,41.785)" font-size="50" font-weight="bold" fill="#000" stroke="#000" stroke-width="1.5">2.0</text>
<text transform="matrix(0.16800,0,0,0.11600,364.094,21.370)" font-size="50" font-weight="bold" fill="#000" stroke="#000" stroke-width="1.5">2.5</text>
<text x="495.70" y="24.00" font-size="5.5" font-weight="bold" text-anchor="middle" fill="#222">*</text>
<text x="521.40" y="34.60" font-size="5.5" font-weight="bold" text-anchor="middle" fill="#222">*</text>
<text x="523.80" y="41.40" font-size="5.5" font-weight="bold" text-anchor="middle" fill="#222">*</text>
<text x="521.90" y="49.10" font-size="5.5" font-weight="bold" text-anchor="middle" fill="#222">*</text>
<text x="471.30" y="57.30" font-size="5.5" font-weight="bold" text-anchor="middle" fill="#222">*</text>
<text x="431.60" y="61.90" font-size="5.5" font-weight="bold" text-anchor="middle" fill="#222">*</text>
<text x="429.30" y="68.90" font-size="5.5" font-weight="bold" text-anchor="middle" fill="#222">*</text>
<text x="558.00" y="70.80" font-size="5.5" font-weight="bold" text-anchor="middle" fill="#222">*</text>
<text x="545.20" y="78.30" font-size="5.5" font-weight="bold" text-anchor="middle" fill="#222">*</text>
<text x="650.30" y="75.30" font-size="5.5" font-weight="bold" text-anchor="middle" fill="#222">*</text>
<text transform="matrix(0,-0.12000,0.14000,0,395.607,144.970)" font-size="50" font-weight="bold" fill="#000" stroke="#000" stroke-width="2.0">Control</text>
<text transform="matrix(0,-0.12000,0.14000,0,441.315,169.920)" font-size="50" font-weight="bold" fill="#000" stroke="#000" stroke-width="2.0">0.625 μl/ml 5-FU</text>
<text transform="matrix(0,-0.12000,0.14000,0,464.168,166.920)" font-size="50" font-weight="bold" fill="#000" stroke="#000" stroke-width="2.0">1.25 μl/ml 5-FU</text>
<text transform="matrix(0,-0.12000,0.14000,0,487.022,163.920)" font-size="50" font-weight="bold" fill="#000" stroke="#000" stroke-width="2.0">2.5 μl/ml 5-FU</text>
<text transform="matrix(0,-0.12000,0.14000,0,532.730,159.960)" font-size="50" font-weight="bold" fill="#000" stroke="#000" stroke-width="2.0">6.25 μl/ml Ps</text>
<text transform="matrix(0,-0.12000,0.14000,0,555.584,159.960)" font-size="50" font-weight="bold" fill="#000" stroke="#000" stroke-width="2.0">12.5 μl/ml Ps</text>
<text transform="matrix(0,-0.12000,0.14000,0,578.438,155.460)" font-size="50" font-weight="bold" fill="#000" stroke="#000" stroke-width="2.0">25 μl/ml Ps</text>
<text transform="matrix(0,-0.12000,0.14000,0,624.145,170.460)" font-size="50" font-weight="bold" fill="#000" stroke="#000" stroke-width="2.0">4.5 Ps+0.41 5-FU</text>
<text transform="matrix(0,-0.12000,0.14000,0,646.999,165.960)" font-size="50" font-weight="bold" fill="#000" stroke="#000" stroke-width="2.0">9 Ps+0.82 5-FU</text>
<text transform="matrix(0,-0.12000,0.14000,0,669.853,168.960)" font-size="50" font-weight="bold" fill="#000" stroke="#000" stroke-width="2.0">18 Ps+1.64 5-FU</text>
<text transform="matrix(0,-0.12740,0.15600,0,354.200,90.694)" font-size="50" font-weight="normal" fill="#000" stroke="#000" stroke-width="2.5">Survivin expression</text>
<text transform="matrix(0.26600,0,0,0.26600,491.762,8.500)" font-size="50" font-weight="bold" fill="#000">Survivin</text>
<text transform="matrix(0.14800,0,0,0.14000,32.596,336.793)" font-size="50" font-weight="bold" fill="#000">0</text>
<text transform="matrix(0.14800,0,0,0.14000,32.670,318.310)" font-size="50" font-weight="bold" fill="#000">1</text>
<text transform="matrix(0.14800,0,0,0.14000,32.633,299.810)" font-size="50" font-weight="bold" fill="#000">2</text>
<text transform="matrix(0.14800,0,0,0.14000,32.559,281.275)" font-size="50" font-weight="bold" fill="#000">3</text>
<text transform="matrix(0.14800,0,0,0.14000,32.448,262.810)" font-size="50" font-weight="bold" fill="#000">4</text>
<text transform="matrix(0.14800,0,0,0.14000,32.559,244.257)" font-size="50" font-weight="bold" fill="#000">5</text>
<text transform="matrix(0.14800,0,0,0.14000,32.522,225.775)" font-size="50" font-weight="bold" fill="#000">6</text>
<text x="113.60" y="243.00" font-size="5.5" font-weight="bold" text-anchor="middle" fill="#222">*</text>
<text x="164.40" y="252.30" font-size="5.5" font-weight="bold" text-anchor="middle" fill="#222">*</text>
<text x="161.90" y="259.40" font-size="5.5" font-weight="bold" text-anchor="middle" fill="#222">*</text>
<text x="118.40" y="267.40" font-size="5.5" font-weight="bold" text-anchor="middle" fill="#222">*</text>
<text x="82.80" y="275.40" font-size="5.5" font-weight="bold" text-anchor="middle" fill="#222">*</text>
<text x="81.00" y="286.70" font-size="5.5" font-weight="bold" text-anchor="middle" fill="#222">*</text>
<text x="199.40" y="231.80" font-size="5.5" font-weight="bold" text-anchor="middle" fill="#222">*</text>
<text x="180.60" y="241.60" font-size="5.5" font-weight="bold" text-anchor="middle" fill="#222">*</text>
<text x="261.90" y="241.90" font-size="5.5" font-weight="bold" text-anchor="middle" fill="#222">*</text>
<text transform="matrix(0,-0.13500,0.12400,0,54.620,361.541)" font-size="50" font-weight="bold" fill="#000" stroke="#000" stroke-width="1.5">Control</text>
<text transform="matrix(0,-0.13500,0.12400,0,94.666,391.379)" font-size="50" font-weight="bold" fill="#000" stroke="#000" stroke-width="1.5">0.625 μg/ml 5-FU</text>
<text transform="matrix(0,-0.13500,0.12400,0,114.689,388.004)" font-size="50" font-weight="bold" fill="#000" stroke="#000" stroke-width="1.5">1.25 μg/ml 5-FU</text>
<text transform="matrix(0,-0.13500,0.12400,0,134.712,384.629)" font-size="50" font-weight="bold" fill="#000" stroke="#000" stroke-width="1.5">2.5 μg/ml 5-FU</text>
<text transform="matrix(0,-0.13500,0.12400,0,174.758,380.140)" font-size="50" font-weight="bold" fill="#000" stroke="#000" stroke-width="1.5">6.25 μg/ml Ps</text>
<text transform="matrix(0,-0.13500,0.12400,0,194.781,380.140)" font-size="50" font-weight="bold" fill="#000" stroke="#000" stroke-width="1.5">12.5 μg/ml Ps</text>
<text transform="matrix(0,-0.13500,0.12400,0,214.804,375.077)" font-size="50" font-weight="bold" fill="#000" stroke="#000" stroke-width="1.5">25 μg/ml Ps</text>
<text transform="matrix(0,-0.13500,0.12400,0,254.850,390.468)" font-size="50" font-weight="bold" fill="#000" stroke="#000" stroke-width="1.5">4.5 Ps+0.41 5-FU</text>
<text transform="matrix(0,-0.13500,0.12400,0,274.873,385.405)" font-size="50" font-weight="bold" fill="#000" stroke="#000" stroke-width="1.5">9 Ps+0.82 5-FU</text>
<text transform="matrix(0,-0.13500,0.12400,0,294.896,388.780)" font-size="50" font-weight="bold" fill="#000" stroke="#000" stroke-width="1.5">18 Ps+1.64 5-FU</text>
<text transform="matrix(0,-0.13800,0.14000,0,18.300,298.060)" font-size="50" font-weight="normal" fill="#000" stroke="#000" stroke-width="1.0">BAX expression</text>
<text transform="matrix(0.26400,0,0,0.26000,145.341,211.500)" font-size="50" font-weight="bold" fill="#000">BAX</text>
<text transform="matrix(0.16400,0,0,0.14000,366.128,338.793)" font-size="50" font-weight="bold" fill="#000">0</text>
<text transform="matrix(0.16400,0,0,0.14000,366.210,319.977)" font-size="50" font-weight="bold" fill="#000">1</text>
<text transform="matrix(0.16400,0,0,0.14000,366.169,301.143)" font-size="50" font-weight="bold" fill="#000">2</text>
<text transform="matrix(0.16400,0,0,0.14000,366.087,282.275)" font-size="50" font-weight="bold" fill="#000">3</text>
<text transform="matrix(0.16400,0,0,0.14000,365.964,263.477)" font-size="50" font-weight="bold" fill="#000">4</text>
<text transform="matrix(0.16400,0,0,0.14000,366.087,244.591)" font-size="50" font-weight="bold" fill="#000">5</text>
<text transform="matrix(0.16400,0,0,0.14000,366.046,225.775)" font-size="50" font-weight="bold" fill="#000">6</text>
<text x="517.20" y="238.50" font-size="5.5" font-weight="bold" text-anchor="middle" fill="#222">*</text>
<text x="519.30" y="245.70" font-size="5.5" font-weight="bold" text-anchor="middle" fill="#222">*</text>
<text x="517.80" y="254.30" font-size="5.5" font-weight="bold" text-anchor="middle" fill="#222">*</text>
<text x="465.30" y="263.10" font-size="5.5" font-weight="bold" text-anchor="middle" fill="#222">*</text>
<text x="424.40" y="268.50" font-size="5.5" font-weight="bold" text-anchor="middle" fill="#222">*</text>
<text x="422.20" y="276.00" font-size="5.5" font-weight="bold" text-anchor="middle" fill="#222">*</text>
<text transform="matrix(0,-0.13400,0.15200,0,391.684,362.976)" font-size="50" font-weight="bold" fill="#000" stroke="#000" stroke-width="1.5">Control</text>
<text transform="matrix(0,-0.13400,0.15200,0,438.884,392.611)" font-size="50" font-weight="bold" fill="#000" stroke="#000" stroke-width="1.5">0.625 μg/ml 5-FU</text>
<text transform="matrix(0,-0.13400,0.15200,0,462.484,389.261)" font-size="50" font-weight="bold" fill="#000" stroke="#000" stroke-width="1.5">1.25 μg/ml 5-FU</text>
<text transform="matrix(0,-0.13400,0.15200,0,486.084,385.911)" font-size="50" font-weight="bold" fill="#000" stroke="#000" stroke-width="1.5">2.5 μg/ml 5-FU</text>
<text transform="matrix(0,-0.13400,0.15200,0,533.284,381.456)" font-size="50" font-weight="bold" fill="#000" stroke="#000" stroke-width="1.5">6.25 μg/ml Ps</text>
<text transform="matrix(0,-0.13400,0.15200,0,556.884,381.456)" font-size="50" font-weight="bold" fill="#000" stroke="#000" stroke-width="1.5">12.5 μg/ml Ps</text>
<text transform="matrix(0,-0.13400,0.15200,0,580.484,376.431)" font-size="50" font-weight="bold" fill="#000" stroke="#000" stroke-width="1.5">25 μg/ml Ps</text>
<text transform="matrix(0,-0.13400,0.15200,0,627.684,391.707)" font-size="50" font-weight="bold" fill="#000" stroke="#000" stroke-width="1.5">4.5 Ps+0.41 5-FU</text>
<text transform="matrix(0,-0.13400,0.15200,0,651.284,386.682)" font-size="50" font-weight="bold" fill="#000" stroke="#000" stroke-width="1.5">9 Ps+0.82 5-FU</text>
<text transform="matrix(0,-0.13400,0.15200,0,674.884,390.032)" font-size="50" font-weight="bold" fill="#000" stroke="#000" stroke-width="1.5">18 Ps+1.64 5-FU</text>
<text transform="matrix(0,-0.13600,0.15800,0,349.200,295.984)" font-size="50" font-weight="bold" fill="#000">BID expression</text>
<text transform="matrix(0.26300,0,0,0.26000,503.127,211.500)" font-size="50" font-weight="bold" fill="#000">BID</text>
</g>
</svg>
</body></html>
